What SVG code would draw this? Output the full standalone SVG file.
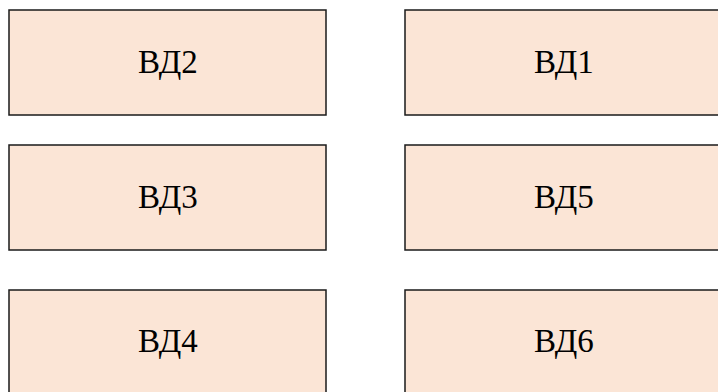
<svg xmlns="http://www.w3.org/2000/svg" width="718" height="392" viewBox="0 0 718 392">
<style>
.box{fill:#FBE5D6;stroke:#1a1a1a;stroke-width:1.5}
.lbl{font-family:"Liberation Serif","Times New Roman",serif;font-size:33px;fill:#000;text-anchor:middle}
</style>
<rect width="718" height="392" fill="#fff"/>
<g id="connectors"/>
<g id="vd2"><rect class="box" x="9" y="10" width="317" height="105"/><text class="lbl" x="168" y="73">ВД2</text></g>
<g id="vd1"><rect class="box" x="405" y="10" width="320" height="105"/><text class="lbl" x="564" y="73">ВД1</text></g>
<g id="vd3"><rect class="box" x="9" y="145" width="317" height="105"/><text class="lbl" x="168" y="208">ВД3</text></g>
<g id="vd5"><rect class="box" x="405" y="145" width="320" height="105"/><text class="lbl" x="564" y="208">ВД5</text></g>
<g id="vd4"><rect class="box" x="9" y="290" width="317" height="110"/><text class="lbl" x="168" y="352">ВД4</text></g>
<g id="vd6"><rect class="box" x="405" y="290" width="320" height="110"/><text class="lbl" x="564" y="352">ВД6</text></g>
</svg>
